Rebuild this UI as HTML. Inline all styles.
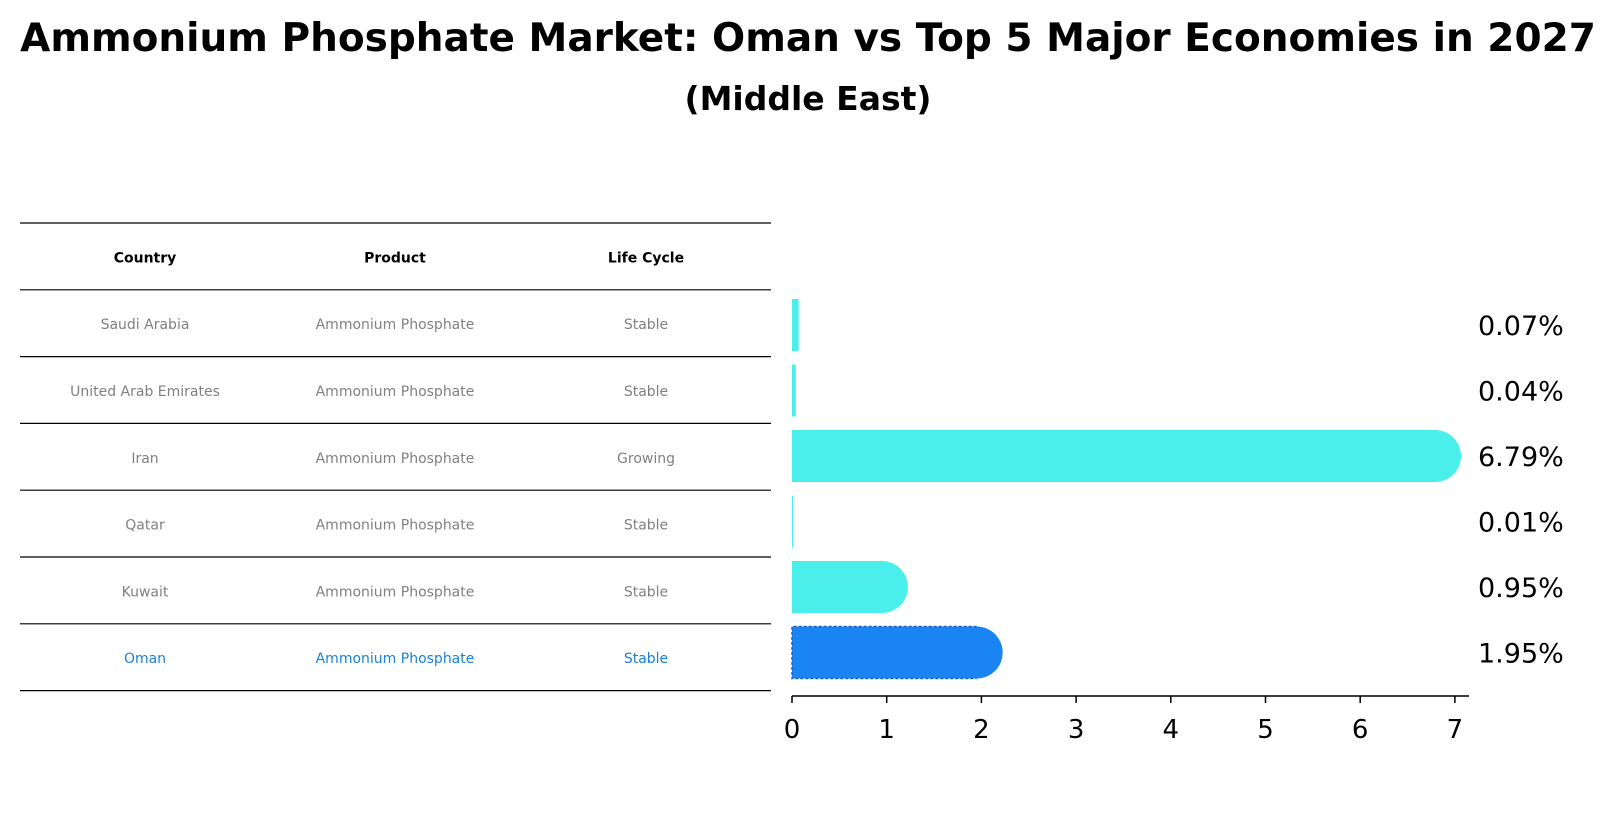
<!DOCTYPE html>
<html><head><meta charset="utf-8"><style>
body{margin:0;background:#fff;font-family:"Liberation Sans","DejaVu Sans",sans-serif}
</style></head><body>
<svg width="1612" height="823" xmlns="http://www.w3.org/2000/svg" font-family="DejaVu Sans, Liberation Sans, sans-serif">
<text x="808" y="51" text-anchor="middle" font-size="39" font-weight="bold">Ammonium Phosphate Market: Oman vs Top 5 Major Economies in 2027</text>
<text x="808" y="110" text-anchor="middle" font-size="33" font-weight="bold">(Middle East)</text>
<g id="table"></g>
<g id="chart"></g>
</svg>
<script>
const countries=["Saudi Arabia","United Arab Emirates","Iran","Qatar","Kuwait","Oman"];
const lifeCycle=["Stable","Stable","Growing","Stable","Stable","Stable"];
const values=[0.07,0.04,6.79,0.01,0.95,1.95];
const valueLabels=["0.07%","0.04%","6.79%","0.01%","0.95%","1.95%"];
const xTicks=[0,1,2,3,4,5,6,7];
const NS="http://www.w3.org/2000/svg";
function mk(tag,attrs,parent){const e=document.createElementNS(NS,tag);for(const k in attrs)e.setAttribute(k,attrs[k]);parent.appendChild(e);return e;}
const table=document.getElementById('table');
const chart=document.getElementById('chart');
const rowTop=223,rowH=66.8;
for(let i=0;i<=countries.length+1;i++){
  const l=mk('line',{x1:20,x2:771,y1:rowTop+i*rowH,y2:rowTop+i*rowH,stroke:'#000','stroke-width':1.2},table);
  
  
}
const colX=[145,395,646];
["Country","Product","Life Cycle"].forEach((h,j)=>{
  const t=mk('text',{x:colX[j],y:rowTop+rowH/2+6,'text-anchor':'middle','font-size':14,'font-weight':'bold'},table);
  t.textContent=h;
  
  
});
countries.forEach((c,i)=>{
  const col=c==="Oman"?"#1a80d9":"#808080";
  const y=rowTop+(i+1)*rowH+rowH/2+6;
  [c,"Ammonium Phosphate",lifeCycle[i]].forEach((v,j)=>{
    const t=mk('text',{x:colX[j],y:y,'text-anchor':'middle','font-size':14,fill:col},table);
    t.textContent=v;
    
    
  });
});
const x0=792,ux=94.7;
const xs=v=>x0+v*ux;
const barCenter=i=>325+i*65.5;
const bh=52;
values.forEach((v,i)=>{
  const cy=barCenter(i);
  const isOman=countries[i]==="Oman";
  const col=isOman?"#1a84f2":"#4aeeea";
  const w=Math.max(xs(v)-x0,1);
  const g=mk('g',{},chart);
  
  
  mk('rect',{x:x0,y:cy-bh/2,width:w,height:bh,fill:col},g);
  if(v>0.5) mk('circle',{cx:xs(v),cy:cy,r:bh/2,fill:col},g);
  if(isOman) mk('path',{d:`M${xs(v)},${cy-bh/2} H${x0} V${cy+bh/2} H${xs(v)}`,fill:'none',stroke:'#1565c0','stroke-width':1.5,'stroke-dasharray':'3,2'},g);
  const t=mk('text',{x:1478,y:cy+10,'font-size':27,fill:'#000'},chart);
  t.textContent=valueLabels[i];
  
  
});
const ax=mk('line',{x1:x0,x2:1469,y1:696,y2:696,stroke:'#000','stroke-width':1.5},chart);


xTicks.forEach(v=>{
  mk('line',{x1:xs(v),x2:xs(v),y1:696,y2:703,stroke:'#000','stroke-width':1.5},chart);
  const t=mk('text',{x:xs(v),y:738,'text-anchor':'middle','font-size':26},chart);
  t.textContent=v;
  
  
});
</script>
</body></html>
